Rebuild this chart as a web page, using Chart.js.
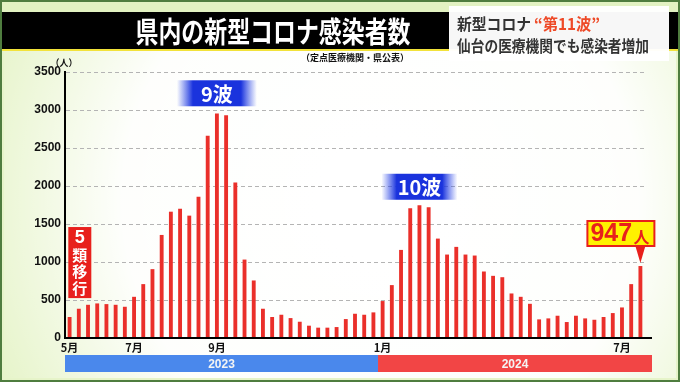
<!DOCTYPE html>
<html>
<head>
<meta charset="utf-8">
<script src="https://cdn.jsdelivr.net/npm/chart.js@4/dist/chart.umd.min.js"></script>
<style>
  html, body { margin: 0; padding: 0; background: #e8f5cd; }
  canvas { display: block; }
</style>
</head>
<body>
<canvas id="chart" width="680" height="382"></canvas>
<script>
// weekly counts (定点医療機関), May 2023 -> Jul 2024
const cases = [276, 385, 437, 455, 446, 437, 411, 542, 709, 906,
  1356, 1662, 1702, 1610, 1859, 2660, 2953, 2931, 2047, 1032,
  757, 385, 276, 306, 262, 214, 162, 136, 136, 144,
  249, 319, 306, 337, 486, 696, 1159, 1706, 1746, 1719,
  1308, 1098, 1199, 1098, 1085, 875, 818, 800, 586, 542,
  450, 245, 258, 293, 210, 293, 258, 240, 276, 328,
  402, 709, 947];
const monthTickIndex = [0, 7, 16, 34, 60];
const monthTickText = ['5月', '7月', '9月', '1月', '7月'];
const yearText = ['2023', '2024'];
const yearStartIndex = [0, 34];
const waveText = ['9波', '10波'];
const waveIndex = [16, 38];
const waveValue = [3220, 1990];
const yMax = 3500;
const yStep = 500;

const JP = '"Noto Sans CJK JP", sans-serif';
const NUM = '"Liberation Sans", Arial, sans-serif';

const labels = cases.map((v, i) => {
  const k = monthTickIndex.indexOf(i);
  return k >= 0 ? monthTickText[k] : '';
});

const decor = {
  id: 'decor',
  beforeDraw(chart) {
    const ctx = chart.ctx;
    const W = chart.width, H = chart.height;
    ctx.save();
    ctx.fillStyle = '#e6f4c9';
    ctx.fillRect(0, 0, W, H);
    // soft white panel behind plot
    const g = ctx.createRadialGradient(380, 200, 60, 380, 200, 420);
    g.addColorStop(0, 'rgba(255,255,255,1)');
    g.addColorStop(0.55, 'rgba(255,255,255,0.95)');
    g.addColorStop(1, 'rgba(255,255,255,0)');
    ctx.fillStyle = g;
    ctx.fillRect(4, 50, W - 8, H - 54);
    // top strip
    ctx.fillStyle = '#e2f2c2';
    ctx.fillRect(0, 0, W, 12);
    // black title band
    ctx.fillStyle = '#000';
    ctx.fillRect(0, 12, W, 37);
    ctx.fillStyle = '#f2e23a';
    ctx.fillRect(0, 49, W, 2);
    // frame
    ctx.strokeStyle = '#4f7d3f';
    ctx.lineWidth = 2;
    ctx.strokeRect(1, 1, W - 2, H - 2);
    ctx.restore();
  },
  afterDatasetsDraw(chart) {
    const ctx = chart.ctx;
    const xs = chart.scales.x, ys = chart.scales.y;
    const area = chart.chartArea;
    const axisRight = 652;
    ctx.save();

    // x axis line
    ctx.strokeStyle = '#000';
    ctx.lineWidth = 2;
    ctx.beginPath();
    ctx.moveTo(area.left - 1, area.bottom);
    ctx.lineTo(axisRight, area.bottom);
    ctx.stroke();

    // unit
    ctx.fillStyle = '#111';
    ctx.font = 'bold 9px ' + JP;
    ctx.textAlign = 'center';
    ctx.textBaseline = 'middle';
    ctx.fillText('（人）', 64, 63);

    // year band
    const yb = 355, hb = 17;
    const bounds = yearStartIndex.map((idx, k) =>
      k === 0 ? area.left : (xs.getPixelForValue(idx - 1) + xs.getPixelForValue(idx)) / 2);
    bounds.push(axisRight);
    const bandColors = ['#4a88ec', '#f24545'];
    yearText.forEach((t, k) => {
      ctx.fillStyle = bandColors[k];
      ctx.fillRect(bounds[k], yb, bounds[k + 1] - bounds[k], hb);
      ctx.fillStyle = '#f4f4f4';
      ctx.font = 'bold 12px ' + NUM;
      ctx.fillText(t, (bounds[k] + bounds[k + 1]) / 2, yb + hb / 2 + 1);
    });

    // wave labels
    waveText.forEach((t, k) => {
      const cx = xs.getPixelForValue(waveIndex[k]);
      const cy = ys.getPixelForValue(waveValue[k]);
      const w = k === 0 ? 80 : 76, h = 26;
      const gr = ctx.createLinearGradient(cx - w / 2, 0, cx + w / 2, 0);
      gr.addColorStop(0, 'rgba(40,70,235,0)');
      gr.addColorStop(0.2, '#1a33dd');
      gr.addColorStop(0.8, '#1a33dd');
      gr.addColorStop(1, 'rgba(40,70,235,0)');
      ctx.fillStyle = gr;
      ctx.fillRect(cx - w / 2, cy - h / 2, w, h);
      ctx.fillStyle = '#fff';
      ctx.font = 'bold 20px ' + JP;
      ctx.fillText(t, cx, cy + 1);
    });

    // 5類移行
    {
      const cx = xs.getPixelForValue(1) + 1;
      const top = ys.getPixelForValue(1460), bot = ys.getPixelForValue(525);
      ctx.fillStyle = '#e8201c';
      ctx.fillRect(cx - 11.5, top, 23, bot - top);
      ctx.fillStyle = '#fff';
      ctx.font = 'bold 18px ' + NUM;
      ctx.fillText('5', cx, top + 11);
      ctx.font = 'bold 15px ' + JP;
      ['類', '移', '行'].forEach((c, i) => ctx.fillText(c, cx, top + 28 + i * 16.5));
    }

    // latest value callout
    {
      const last = cases.length - 1;
      const bx = xs.getPixelForValue(last);
      const by = ys.getPixelForValue(cases[last]);
      const left = bx - 53, top = 221, w = 67, h = 25;
      ctx.fillStyle = '#e8201c';
      ctx.beginPath();
      ctx.moveTo(bx - 5, top + h);
      ctx.lineTo(bx + 5, top + h);
      ctx.lineTo(bx, by - 3);
      ctx.closePath();
      ctx.fill();
      ctx.fillStyle = '#fff200';
      ctx.fillRect(left, top, w, h);
      ctx.strokeStyle = '#e8201c';
      ctx.lineWidth = 2;
      ctx.strokeRect(left, top, w, h);
      ctx.fillStyle = '#e8201c';
      ctx.textAlign = 'left';
      ctx.font = 'bold 25px ' + NUM;
      ctx.fillText(String(cases[last]), left + 3, top + h / 2 + 1, 42);
      ctx.font = 'bold 16px ' + JP;
      ctx.fillText('人', left + 46, top + h / 2 + 3);
    }

    // header title
    ctx.textAlign = 'center';
    ctx.fillStyle = '#fff';
    ctx.font = 'bold 29px ' + JP;
    ctx.fillText('県内の新型コロナ感染者数', 273, 32, 275);
    ctx.fillStyle = '#111';
    ctx.font = 'bold 9px ' + JP;
    ctx.fillText('（定点医療機関・県公表）', 355, 58);

    // right headline box
    ctx.fillStyle = 'rgba(255,255,255,0.97)';
    ctx.fillRect(449, 6, 220, 55);
    ctx.textAlign = 'left';
    ctx.font = 'bold 16px ' + JP;
    ctx.fillStyle = '#333';
    ctx.fillText('新型コロナ', 457, 24, 74);
    ctx.fillStyle = '#ee4a28';
    ctx.fillText('“第11波”', 534, 24, 66);
    ctx.fillStyle = '#333';
    ctx.fillText('仙台の医療機関でも感染者増加', 457, 46, 192);

    ctx.restore();
  }
};

new Chart(document.getElementById('chart'), {
  type: 'bar',
  data: {
    labels: labels,
    datasets: [{
      data: cases,
      backgroundColor: '#ea2f2a',
      barPercentage: 0.42,
      categoryPercentage: 1
    }]
  },
  options: {
    responsive: false,
    animation: false,
    devicePixelRatio: 1,
    layout: { padding: { top: 72, right: 35, bottom: 0, left: 0 } },
    plugins: { legend: { display: false }, tooltip: { enabled: false } },
    scales: {
      x: {
        grid: { display: false, drawTicks: false },
        border: { display: false },
        afterFit: s => { s.height = 44; },
        ticks: {
          autoSkip: false,
          maxRotation: 0,
          padding: 3,
          color: '#111',
          font: { family: JP, size: 11, weight: 'bold' }
        }
      },
      y: {
        min: 0,
        max: yMax,
        afterFit: s => { s.width = 65; },
        grid: { color: '#b4b4b4', lineWidth: 1, drawTicks: false },
        border: { display: true, color: '#000', width: 2, dash: [4, 3] },
        ticks: {
          stepSize: yStep,
          padding: 4,
          color: '#111',
          font: { family: NUM, size: 12, weight: 'bold' },
          callback: v => String(v)
        }
      }
    }
  },
  plugins: [decor]
});
</script>
</body>
</html>
